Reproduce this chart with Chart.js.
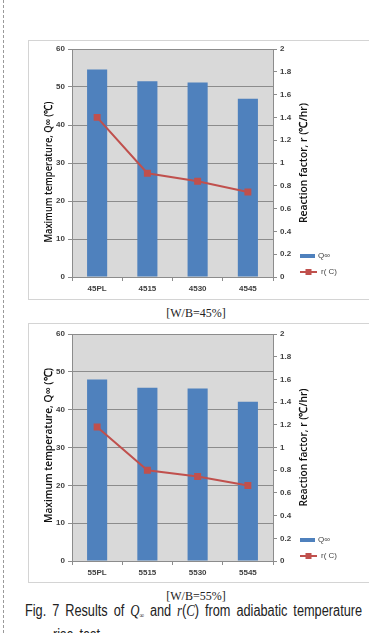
<!DOCTYPE html>
<html>
<head>
<meta charset="utf-8">
<script src="https://cdn.jsdelivr.net/npm/chart.js@4"></script>
<style>
  html, body { margin: 0; padding: 0; background: #fff; }
  body { width: 369px; height: 633px; position: relative; overflow: hidden; font-family: "Liberation Sans", Arial, sans-serif; }
  .dash { position: absolute; left: 3px; top: 0; height: 633px; border-left: 1px dashed #9a9a9a; }
  .frame { position: absolute; left: 28px; width: 340px; height: 258px; border: 1px solid #d4d4d4; }
  .frame canvas { display: block; }
  .sub { position: absolute; width: 392px; text-align: center; font-family: "Liberation Serif", "Times New Roman", serif; font-size: 12px; color: #222; }
  .fig { position: absolute; left: 25px; font-size: 16px; line-height: 16px; color: #222; white-space: nowrap; transform-origin: 0 0; word-spacing: 3px; }
  .m { font-family: "Liberation Serif", serif; font-style: italic; }
  .m sub { font-size: 8px; font-style: normal; vertical-align: -2px; }
</style>
</head>
<body>
<div class="dash"></div>
<div class="frame" style="top:40px"><canvas id="c45" width="340" height="258"></canvas></div>
<div class="sub" style="top:306px">[W/B=45%]</div>
<div class="frame" style="top:323px"><canvas id="c55" width="340" height="258"></canvas></div>
<div class="sub" style="top:589px">[W/B=55%]</div>
<div class="fig" id="fig1" style="top:603px">Fig. 7 Results of <span class="m">Q<sub>∞</sub></span> and <span class="m">r</span>(<span class="m">C</span>) from adiabatic temperature</div>
<div class="fig" id="fig2" style="top:627px;left:53px">rise test</div>
<script>
// ---------------------------
// DATA
// ---------------------------
const cats45 = ['45PL', '4515', '4530', '4545'];
const qmax45 = [54.6, 51.5, 51.2, 46.9];
const rate45 = [1.40, 0.91, 0.84, 0.745];

const cats55 = ['55PL', '5515', '5530', '5545'];
const qmax55 = [48.0, 45.8, 45.6, 42.1];
const rate55 = [1.18, 0.80, 0.745, 0.665];

const leftTicks = ['0', '10', '20', '30', '40', '50', '60'];
const rightTicks = ['0', '0.2', '0.4', '0.6', '0.8', '1', '1.2', '1.4', '1.6', '1.8', '2'];

const BLUE = '#4f81bd';
const RED = '#c0504d';
const tickFont = { family: "'Liberation Sans', Arial, sans-serif", size: 8, weight: 'bold' };

// squeeze the caption line to the width it has in the paper
(function () {
  const f1 = document.getElementById('fig1');
  const k = 337 / f1.scrollWidth;
  f1.style.transform = 'scaleX(' + k + ')';
  document.getElementById('fig2').style.transform = 'scaleX(' + k + ')';
})();

// plot area background
const plotBg = {
  id: 'plotBg',
  beforeDraw(chart) {
    const a = chart.chartArea, ctx = chart.ctx;
    ctx.save();
    ctx.fillStyle = '#d9d9d9';
    ctx.fillRect(a.left, a.top, a.right - a.left, a.bottom - a.top);
    ctx.restore();
  }
};

// small legend bottom-right, beside the right axis
const sideLegend = {
  id: 'sideLegend',
  afterDraw(chart) {
    const a = chart.chartArea, ctx = chart.ctx;
    const ds = chart.data.datasets;
    const x = a.right + 27;
    ctx.save();
    ctx.font = "8px 'Liberation Sans', Arial, sans-serif";
    ctx.textBaseline = 'middle';
    ctx.fillStyle = ds[0].backgroundColor;
    ctx.fillRect(x, a.bottom - 23, 15, 4);
    ctx.fillStyle = '#444';
    ctx.fillText(ds[0].label, x + 18, a.bottom - 21);
    ctx.strokeStyle = ds[1].borderColor;
    ctx.lineWidth = 2;
    ctx.beginPath();
    ctx.moveTo(x, a.bottom - 5);
    ctx.lineTo(x + 17, a.bottom - 5);
    ctx.stroke();
    ctx.fillStyle = ds[1].borderColor;
    ctx.fillRect(x + 5.5, a.bottom - 8, 6, 6);
    ctx.fillStyle = '#444';
    ctx.fillText(ds[1].label, x + 21, a.bottom - 5);
    ctx.restore();
  }
};

// rotated axis titles, condensed to the length they have in the reference
function vText(ctx, text, cx, cy, len) {
  ctx.save();
  ctx.translate(cx, cy);
  ctx.rotate(-Math.PI / 2);
  ctx.font = "600 11px 'Open Sans', 'Liberation Sans', sans-serif";
  const w = ctx.measureText(text).width;
  ctx.scale(len / w, 1);
  ctx.fillStyle = '#111';
  ctx.textAlign = 'center';
  ctx.textBaseline = 'middle';
  ctx.fillText(text, 0, 0);
  ctx.restore();
}

const axisTitles = {
  id: 'axisTitles',
  afterDraw(chart, args, opts) {
    const a = chart.chartArea, ctx = chart.ctx;
    const mid = (a.top + a.bottom) / 2;
    vText(ctx, 'Maximum temperature, Q∞ (℃)', 20, mid + opts.leftShift, opts.leftLen);
    vText(ctx, 'Reaction factor, r (℃/hr)', a.right + 31, mid + opts.rightShift, opts.rightLen);
  }
};

function buildChart(id, cats, qmax, rate, top, xH, titles) {
  return new Chart(document.getElementById(id), {
    type: 'bar',
    data: {
      labels: cats,
      datasets: [
        {
          label: 'Q∞',
          data: qmax,
          backgroundColor: BLUE,
          borderWidth: 0,
          categoryPercentage: 1,
          barPercentage: 0.4,
          yAxisID: 'y',
          order: 2
        },
        {
          type: 'line',
          label: 'r( C)',
          data: rate,
          borderColor: RED,
          backgroundColor: RED,
          borderWidth: 2,
          pointStyle: 'rect',
          pointRadius: 3.5,
          tension: 0,
          yAxisID: 'y1',
          order: 1
        }
      ]
    },
    options: {
      responsive: false,
      animation: false,
      layout: { padding: { top: top, right: 66, left: 0, bottom: 0 } },
      plugins: { legend: { display: false }, tooltip: { enabled: false }, axisTitles: titles },
      scales: {
        x: {
          afterFit(s) { s.height = xH; },
          grid: { offset: true, drawOnChartArea: false, tickLength: 4, color: '#8c8c8c' },
          border: { color: '#8c8c8c' },
          ticks: { color: '#404040', font: tickFont, padding: 3 }
        },
        y: {
          position: 'left',
          min: 0, max: 60,
          afterFit(s) { s.width = 43; },
          afterBuildTicks(s) { s.ticks = leftTicks.map(v => ({ value: +v })); },
          grid: { color: '#8c8c8c', tickLength: 4, lineWidth: 1 },
          border: { color: '#8c8c8c' },
          ticks: { color: '#404040', font: tickFont, padding: 3 }
        },
        y1: {
          position: 'right',
          min: 0, max: 2,
          afterFit(s) { s.width = 30; },
          afterBuildTicks(s) { s.ticks = rightTicks.map(v => ({ value: +v })); },
          grid: { drawOnChartArea: false, tickLength: 4, color: '#8c8c8c' },
          border: { color: '#8c8c8c' },
          ticks: { color: '#404040', font: tickFont, padding: 3, callback: (v) => rightTicks.find(t => +t === +v.toFixed(1)) }
        }
      }
    },
    plugins: [plotBg, sideLegend, axisTitles]
  });
}

buildChart('c45', cats45, qmax45, rate45, 8, 22, { leftLen: 141, leftShift: 9, rightLen: 120, rightShift: 0 });
buildChart('c55', cats55, qmax55, rate55, 10, 21, { leftLen: 155, leftShift: -2, rightLen: 118, rightShift: 0 });
</script>
</body>
</html>
